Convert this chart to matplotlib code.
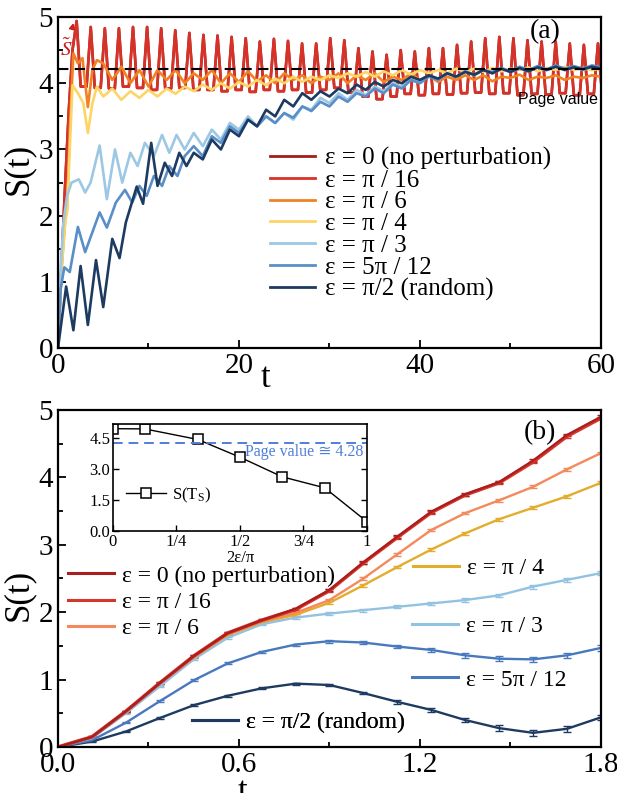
import numpy as np
import matplotlib.pyplot as plt
from matplotlib.lines import Line2D
from matplotlib.ticker import MultipleLocator

plt.rcParams['font.family'] = ['Liberation Serif', 'DejaVu Sans']
plt.rcParams['mathtext.fontset'] = 'stix'

labels = ['ε = 0 (no perturbation)', 'ε = π / 16', 'ε = π / 6', 'ε = π / 4',
          'ε = π / 3', 'ε = 5π / 12', 'ε = π/2 (random)']
colors_a = ['#a31d1d', '#d63228', '#f08223', '#fdd566', '#9dc8e4', '#5a8ec8', '#1d3a61']
colors_b = ['#a91f1f', '#d8352a', '#f4895b', '#e2ad2c', '#92c2e2', '#4878be', '#1e3a60']

# ---- (a) long-time S(t) ----
page_line_a = 4.22

# red curve: rise, then one peak + flat trough per drive period
red_rise_t = [0, 0.4, 0.8, 1.2, 1.6]
red_rise_s = [0, 1.3, 2.5, 3.6, 4.5]
red_period = 1.557
red_first_peak = 2.06
red_peaks = [4.94, 4.85, 4.83, 4.83, 4.85, 4.85, 4.83, 4.80, 4.76, 4.73,
             4.72, 4.70, 4.68, 4.63, 4.67, 4.64, 4.60, 4.60, 4.68, 4.65,
             4.53, 4.48, 4.43, 4.50, 4.48, 4.53, 4.53, 4.58, 4.63, 4.68,
             4.70, 4.68, 4.65, 4.63, 4.63, 4.60, 4.58, 4.60]
red_troughs = [3.95, 3.93, 3.92, 3.95, 3.93, 3.90, 3.92, 3.93, 3.90, 3.90,
               3.88, 3.90, 3.87, 3.90, 3.88, 3.90, 3.86, 3.90, 3.93, 3.86,
               3.80, 3.76, 3.80, 3.84, 3.82, 3.84, 3.83, 3.85, 3.86, 3.84,
               3.85, 3.82, 3.84, 3.83, 3.85, 3.82, 3.84, 3.85]

orange_t0 = [0, 0.4, 0.8, 1.0, 1.3, 1.7, 2.2, 2.7, 3.3, 3.8, 4.3]
orange_s0 = [0, 1.2, 1.95, 2.1, 3.3, 4.45, 4.3, 4.38, 3.64, 4.2, 4.35]
orange_tail = [4.30, 4.05, 4.25, 4.00, 4.20, 3.95, 4.20, 4.05, 4.20, 4.00, 4.15,
               4.05, 4.20, 4.00, 4.15, 4.02, 4.18, 4.03, 4.12, 4.00, 4.15, 4.05,
               4.12, 4.00, 4.10, 4.05, 4.15, 4.00, 4.12, 4.05, 4.15, 4.02, 4.10,
               4.05, 4.15, 4.05, 4.12, 4.02, 4.10, 4.05, 4.12, 4.05, 4.12, 4.03,
               4.10, 4.08, 4.13, 4.05, 4.10, 4.08, 4.12, 4.05, 4.10, 4.08, 4.12, 4.10]

yellow_t0 = [0, 0.4, 0.8, 1.0, 1.3, 1.6, 2.2, 2.8, 3.3, 3.8, 4.3]
yellow_s0 = [0, 1.2, 1.9, 2.05, 3.0, 3.97, 3.85, 3.7, 3.25, 3.7, 3.95]
yellow_tail = [3.80, 3.92, 3.75, 3.88, 3.78, 3.90, 3.80, 3.92, 3.84, 3.95, 3.88,
               3.98, 3.90, 4.00, 3.92, 4.02, 3.95, 4.05, 3.97, 4.07, 4.00, 4.10,
               4.02, 4.10, 4.05, 4.12, 4.08, 4.15, 4.10, 4.17, 4.10, 4.18, 4.12,
               4.20, 4.13, 4.20, 4.15, 4.20, 4.15, 4.22, 4.17, 4.22, 4.17, 4.23,
               4.18, 4.22, 4.20, 4.24, 4.18, 4.23, 4.20, 4.25, 4.20, 4.23, 4.20, 4.22]

lblue_t0 = [0, 0.3, 0.6, 1.0, 1.5, 2.3, 3.0, 3.6, 4.6, 5.4, 6.3, 7.1, 8.0, 8.8,
            9.6, 10.6, 11.5, 12.3, 13.1, 14.0]
lblue_s0 = [0, 1.2, 1.9, 2.3, 2.5, 2.55, 2.35, 2.5, 3.06, 2.25, 3.0, 2.5, 2.95, 2.75,
            3.1, 2.9, 3.22, 2.95, 3.22, 3.0]
lblue_tail = [3.25, 3.05, 3.30, 3.15, 3.40, 3.30, 3.50, 3.35, 3.50, 3.40, 3.55,
              3.45, 3.65, 3.60, 3.78, 3.70, 3.85, 3.75, 3.90, 3.82, 3.95, 3.88,
              4.00, 3.95, 4.08, 4.02, 4.12, 4.07, 4.15, 4.10, 4.18, 4.13, 4.20,
              4.15, 4.22, 4.17, 4.22, 4.18, 4.24, 4.20, 4.25, 4.20, 4.24, 4.20, 4.25, 4.22]

mblue_t0 = [0, 0.3, 0.7, 1.3, 2.2, 3.0, 4.6, 5.4, 6.4, 7.4, 8.2, 9.0, 9.8, 10.6,
            11.5, 12.3, 13.2, 14.0]
mblue_s0 = [0, 0.9, 1.22, 1.15, 1.83, 1.45, 2.05, 1.82, 2.2, 2.39, 2.2, 2.45, 2.3, 2.6,
            2.45, 2.75, 2.6, 2.9]
mblue_tail = [3.05, 2.90, 3.20, 3.10, 3.35, 3.25, 3.45, 3.35, 3.50, 3.40, 3.55,
              3.48, 3.65, 3.58, 3.72, 3.65, 3.80, 3.72, 3.85, 3.80, 3.92, 3.85,
              3.98, 3.92, 4.05, 4.00, 4.10, 4.05, 4.15, 4.10, 4.18, 4.12, 4.20,
              4.17, 4.23, 4.18, 4.25, 4.20, 4.26, 4.21, 4.27, 4.22, 4.26, 4.22, 4.27, 4.24]

navy_t0 = [0, 0.9, 1.7, 2.5, 3.3, 4.2, 5.0, 6.0, 6.8, 7.5, 8.7, 9.4, 10.3, 11.0,
           11.8, 12.6, 13.4, 14.2]
navy_s0 = [0, 0.93, 0.27, 1.24, 0.35, 1.33, 0.62, 1.65, 1.36, 1.9, 2.44, 2.18, 3.1, 2.45,
           2.8, 2.6, 2.95, 2.75]
navy_tail = [2.95, 2.85, 3.15, 3.00, 3.30, 3.20, 3.45, 3.35, 3.60, 3.50, 3.75,
             3.65, 3.85, 3.75, 3.88, 3.80, 3.92, 3.85, 3.98, 3.90, 4.02, 3.95,
             4.05, 4.00, 4.10, 4.05, 4.12, 4.07, 4.15, 4.10, 4.17, 4.13, 4.20,
             4.15, 4.22, 4.17, 4.23, 4.18, 4.24, 4.20, 4.25, 4.20, 4.24, 4.21, 4.25, 4.22]

# ---- (b) short-time S(t), sampled on 17 points ----
t_b = np.linspace(0, 1.8, 17)
s_b = [
    [0, 0.15, 0.53, 0.95, 1.35, 1.69, 1.88, 2.05, 2.33, 2.74, 3.12, 3.49, 3.75, 3.93, 4.25, 4.63, 4.90],
    [0, 0.15, 0.53, 0.95, 1.35, 1.69, 1.88, 2.04, 2.32, 2.73, 3.11, 3.48, 3.74, 3.92, 4.23, 4.61, 4.88],
    [0, 0.15, 0.53, 0.94, 1.33, 1.67, 1.86, 1.99, 2.18, 2.50, 2.86, 3.22, 3.47, 3.66, 3.86, 4.12, 4.36],
    [0, 0.15, 0.53, 0.94, 1.33, 1.66, 1.85, 1.96, 2.14, 2.40, 2.67, 2.93, 3.17, 3.38, 3.55, 3.72, 3.92],
    [0, 0.13, 0.50, 0.90, 1.30, 1.62, 1.82, 1.92, 1.98, 2.03, 2.08, 2.13, 2.18, 2.25, 2.38, 2.48, 2.58],
    [0, 0.10, 0.36, 0.68, 0.99, 1.24, 1.41, 1.52, 1.57, 1.55, 1.49, 1.44, 1.36, 1.31, 1.30, 1.36, 1.47],
    [0, 0.08, 0.23, 0.43, 0.62, 0.76, 0.87, 0.94, 0.92, 0.80, 0.67, 0.55, 0.40, 0.28, 0.21, 0.27, 0.44],
]
err_b = [
    [0, .01, .01, .01, .015, .015, .015, .015, .02, .02, .02, .02, .02, .02, .02, .02, .02],
    [0, .01, .01, .01, .015, .015, .015, .015, .02, .02, .02, .02, .02, .02, .02, .02, .02],
    [0, .01, .01, .01, .015, .015, .015, .015, .02, .02, .02, .02, .02, .02, .02, .02, .02],
    [0, .01, .01, .01, .015, .015, .015, .015, .02, .02, .02, .02, .02, .02, .02, .02, .02],
    [0, .01, .01, .01, .015, .015, .015, .015, .02, .02, .02, .02, .025, .025, .03, .03, .03],
    [0, .01, .01, .01, .015, .015, .015, .015, .02, .02, .025, .03, .035, .04, .04, .04, .04],
    [0, .01, .01, .01, .015, .015, .015, .015, .02, .02, .025, .03, .035, .04, .04, .04, .04],
]

# inset: saturation entropy against 2ε/π
eps_in = [0, 1 / 8, 1 / 3, 1 / 2, 2 / 3, 5 / 6, 1]
s_ts = [4.95, 4.94, 4.43, 3.57, 2.62, 2.09, 0.45]
page_value = 4.28


def style(ax, size):
    ax.tick_params(which='both', direction='in', labelsize=size, width=1.3)
    ax.tick_params(which='major', length=6)
    ax.tick_params(which='minor', length=3.5)
    for sp in ax.spines.values():
        sp.set_linewidth(1.6)


fig = plt.figure(figsize=(6.17, 7.93), dpi=100)
ax_a = fig.add_axes([0.094, 0.561, 0.880, 0.4175])
ax_b = fig.add_axes([0.094, 0.058, 0.880, 0.425])
ax_in = fig.add_axes([0.1831, 0.3304, 0.4117, 0.135])

# (a)
t_peaks = red_first_peak + red_period * np.arange(len(red_peaks))
t_red = np.concatenate([red_rise_t, np.ravel(np.column_stack(
    [t_peaks, t_peaks + 0.45, t_peaks + 1.1]))])
s_red = np.concatenate([red_rise_s, np.ravel(np.column_stack(
    [red_peaks, red_troughs, red_troughs]))])
tail_t = np.arange(5, 61)
blue_tail_t = np.arange(15, 61)
curves_a = [
    (t_red, s_red),
    (t_red, s_red),
    (np.concatenate([orange_t0, tail_t]), np.concatenate([orange_s0, orange_tail])),
    (np.concatenate([yellow_t0, tail_t]), np.concatenate([yellow_s0, yellow_tail])),
    (np.concatenate([lblue_t0, blue_tail_t]), np.concatenate([lblue_s0, lblue_tail])),
    (np.concatenate([mblue_t0, blue_tail_t]), np.concatenate([mblue_s0, mblue_tail])),
    (np.concatenate([navy_t0, blue_tail_t]), np.concatenate([navy_s0, navy_tail])),
]
for (tt, ss), c in zip(curves_a, colors_a):
    ax_a.plot(tt, ss, color=c, lw=1.9, solid_joinstyle='round')
ax_a.axhline(page_line_a, color='black', lw=1.5, ls=(0, (5, 3)), zorder=5)
ax_a.text(0.921, 0.75, 'Page value', transform=ax_a.transAxes, ha='center', va='center',
          fontsize=11.5, family='Liberation Sans')
ax_a.text(0.897, 0.955, '(a)', transform=ax_a.transAxes, ha='center', va='center', fontsize=20)
ax_a.annotate(r'$\tilde{S}$', xy=(1.75, 4.93), xytext=(0.9, 4.5), color='#cc1f1f',
              fontsize=15, ha='center', va='center',
              arrowprops=dict(arrowstyle='-|>', color='#cc1f1f', lw=1.2,
                              mutation_scale=8, shrinkA=6, shrinkB=1))
ax_a.set_xlim(0, 60)
ax_a.set_ylim(0, 5)
ax_a.xaxis.set_major_locator(MultipleLocator(20))
ax_a.xaxis.set_minor_locator(MultipleLocator(10))
ax_a.yaxis.set_major_locator(MultipleLocator(1))
ax_a.yaxis.set_minor_locator(MultipleLocator(0.5))
style(ax_a, 21)
ax_a.set_xlabel('t', fontsize=25)
ax_a.xaxis.set_label_coords(0.382, -0.042)
ax_a.set_ylabel('S(t)', fontsize=25)
ax_a.yaxis.set_label_coords(-0.042, 0.54)
handles_a = [Line2D([], [], color=c, lw=2) for c in colors_a]
ax_a.legend(handles_a, labels, loc='center left', bbox_to_anchor=(0.39, 0.375),
            frameon=False, fontsize=18, handlelength=1.8, handletextpad=0.4,
            labelspacing=-0.03, borderpad=0, borderaxespad=0)

# (b)
for i in range(6, -1, -1):
    lw = 2.6 if i == 1 else (1.6 if i == 0 else 1.7)
    ax_b.errorbar(t_b, s_b[i], yerr=err_b[i], color=colors_b[i], lw=lw,
                  elinewidth=1, capsize=3, capthick=1)
ax_b.set_xlim(0, 1.8)
ax_b.set_ylim(0, 5)
ax_b.xaxis.set_major_locator(MultipleLocator(0.6))
ax_b.xaxis.set_minor_locator(MultipleLocator(0.3))
ax_b.xaxis.set_major_formatter(lambda v, p: f'{v:.1f}')
ax_b.yaxis.set_major_locator(MultipleLocator(1))
ax_b.yaxis.set_minor_locator(MultipleLocator(0.5))
style(ax_b, 21)
ax_b.set_xlabel('t', fontsize=25)
ax_b.xaxis.set_label_coords(0.34, -0.085)
ax_b.set_ylabel('S(t)', fontsize=25)
ax_b.yaxis.set_label_coords(-0.042, 0.45)
ax_b.text(0.888, 0.932, '(b)', transform=ax_b.transAxes, ha='center', va='center', fontsize=20)

leg_kw = dict(frameon=False, fontsize=17, handlelength=1.95, handletextpad=0.35,
              labelspacing=0.2, borderpad=0, borderaxespad=0, loc='center left')
handles_b = [Line2D([], [], color=c, lw=2.2) for c in colors_b]
groups = [([0, 1, 2], (0.018, 0.43)), ([3], (0.654, 0.531)), ([4], (0.652, 0.357)),
          ([5], (0.652, 0.199)), ([6], (0.247, 0.072))]
for idx, anchor in groups:
    leg = ax_b.legend([handles_b[i] for i in idx], [labels[i] for i in idx],
                      bbox_to_anchor=anchor, **leg_kw)
    ax_b.add_artist(leg)

# inset
ax_in.plot(eps_in, s_ts, color='black', lw=1, marker='s', ms=6.5,
           mfc='white', mec='black', mew=1.1, label=r'S(T$_\mathregular{S}$)')
ax_in.axhline(page_value, color='#4f7fd9', lw=1.4, ls=(0, (5, 3)))
ax_in.text(0.985, 0.735, 'Page value ≅ 4.28', transform=ax_in.transAxes, ha='right',
           va='center', color='#4f7fd9', fontsize=11.5,
           family=['Liberation Serif', 'DejaVu Sans'])
ax_in.set_xlim(0, 1)
ax_in.set_ylim(0, 5.18)
ax_in.set_xticks([0, 0.25, 0.5, 0.75, 1])
ax_in.set_xticklabels(['0', '1/4', '1/2', '3/4', '1'])
ax_in.set_yticks([0, 1.5, 3.0, 4.5])
ax_in.yaxis.set_major_formatter(lambda v, p: f'{v:.1f}')
ax_in.tick_params(direction='in', labelsize=12, length=4, width=1, right=True, pad=2)
for sp in ax_in.spines.values():
    sp.set_linewidth(1.2)
ax_in.set_xlabel('2ε/π', fontsize=12, labelpad=0)
ax_in.legend(loc='center left', bbox_to_anchor=(0.05, 0.336), frameon=False, fontsize=12,
             handlelength=2.4, handletextpad=0.4, borderpad=0, borderaxespad=0)

fig.savefig('out.png', dpi=100)
